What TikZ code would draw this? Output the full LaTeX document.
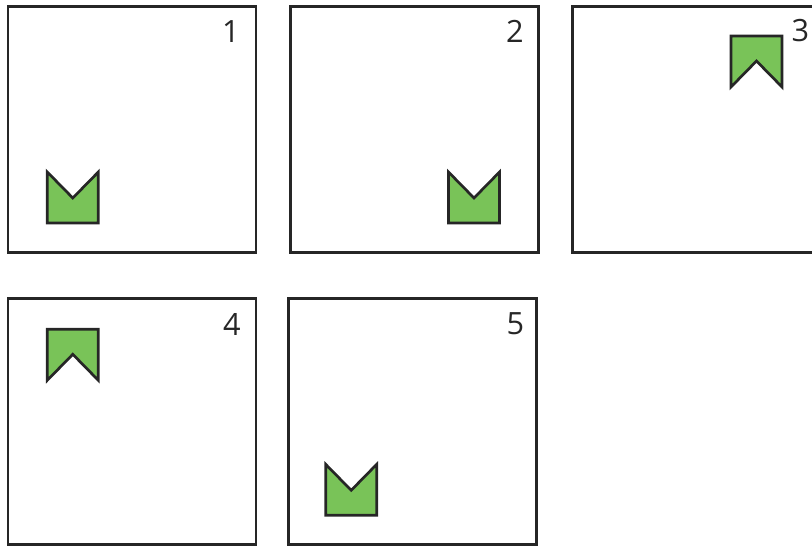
\documentclass[tikz,border=0pt]{standalone}
\usepackage{fontspec}
\setmainfont{Open Sans}
\definecolor{flaggreen}{RGB}{121,195,88}
\begin{document}
\begin{tikzpicture}[
    x=0.75pt, y=-0.75pt,
    panel/.style={rectangle, draw=black!85, line width=2pt, minimum width=186pt, minimum height=184.5pt, inner sep=0pt},
    flag/.style={draw=black!85, fill=flaggreen, line width=2pt, line join=miter},
    num/.style={font=\fontsize{23}{23}\selectfont, text=black!85, inner sep=0pt}
]
    \useasboundingbox (0,0) rectangle (812,546);

    % top row
    \node[panel] (p1) at (132, 129.5) {};
    \node[num] (n1) at (231, 31.5) {1};
    \draw[flag] (47.3, 172) -- ++(25.5, 26) -- ++(25.5, -26) -- ++(0, 51) -- ++(-51, 0) -- cycle;

    \node[panel] (p2) at (414.3, 129.5) {};
    \node[num] (n2) at (515, 31.5) {2};
    \draw[flag] (448.5, 172) -- ++(25.5, 26) -- ++(25.5, -26) -- ++(0, 51) -- ++(-51, 0) -- cycle;

    \node[panel] (p3) at (696.5, 129.8) {};
    \node[num] (n3) at (800.5, 31) {3};
    \draw[flag] (731, 36) -- ++(51, 0) -- ++(0, 51) -- ++(-25.5, -26) -- ++(-25.5, 26) -- cycle;

    % bottom row
    \node[panel] (p4) at (132, 421.6) {};
    \node[num] (n4) at (232, 324.5) {4};
    \draw[flag] (47.3, 329.3) -- ++(51, 0) -- ++(0, 51) -- ++(-25.5, -26) -- ++(-25.5, 26) -- cycle;

    \node[panel] (p5) at (412.2, 421.6) {};
    \node[num] (n5) at (515.5, 324) {5};
    \draw[flag] (325.7, 464.3) -- ++(25.5, 26) -- ++(25.5, -26) -- ++(0, 51) -- ++(-51, 0) -- cycle;
\end{tikzpicture}
\end{document}
